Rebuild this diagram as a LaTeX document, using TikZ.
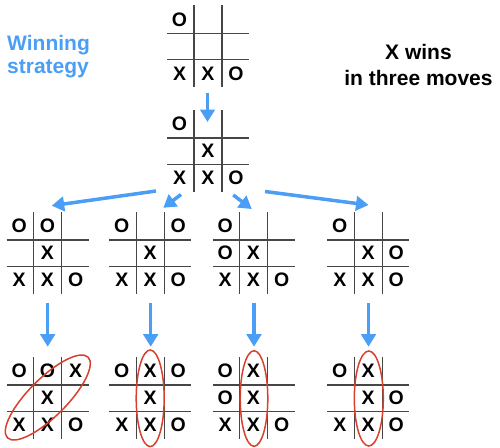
\documentclass[tikz,border=0pt]{standalone}
\usepackage{fontspec}
\setmainfont{Liberation Sans}
\usetikzlibrary{arrows.meta}

\definecolor{stratblue}{RGB}{74,158,246}
\definecolor{winred}{RGB}{214,64,44}
\definecolor{gridgray}{RGB}{70,70,70}

\tikzset{
  gridline/.style={draw=gridgray, line width=1.1pt},
  glyph/.style={inner sep=0pt, font=\fontsize{19.5}{21}\selectfont\bfseries},
  movearrow/.style={draw=stratblue, line width=3.5pt, -{Triangle[length=12.5pt,width=14.5pt]}},
  winloop/.style={draw=winred, line width=1.5pt},
  caption/.style={inner sep=0pt, font=\fontsize{21}{24}\selectfont\bfseries},
}

% #1 board name, #2 left x, #3 top y, #4 list of row/col/symbol
\newcommand\tttboard[4]{%
  \begin{scope}[shift={(#2,#3)}]
    \draw[gridline] (27,0) -- (27,82);
    \draw[gridline] (55,0) -- (55,82);
    \draw[gridline] (0,28) -- (82,28);
    \draw[gridline] (0,54.5) -- (82,54.5);
    \foreach \r/\c/\s in {#4}
      \node[glyph] (#1-\r-\c) at ({12.5+28.25*(\c-1)},{14+27*(\r-1)}) {\s};
  \end{scope}}

\begin{document}
\begin{tikzpicture}[x=1pt,y=-1pt]
  \useasboundingbox (0,0) rectangle (500,447);

  % captions
  \node[caption, text=stratblue, anchor=base west] (stratA) at (7,50) {Winning};
  \node[caption, text=stratblue, anchor=base west] (stratB) at (7,73.5) {strategy};
  \node[caption, anchor=base] (winA) at (418.5,59.5) {X wins};
  \node[caption, anchor=base] (winB) at (418.5,85) {in three moves};

  % game positions
  \tttboard{start}{167}{5.3}{1/1/O, 3/1/X, 3/2/X, 3/3/O}
  \tttboard{mid}{167}{110}{1/1/O, 2/2/X, 3/1/X, 3/2/X, 3/3/O}

  \tttboard{a}{6.7}{212}{1/1/O, 1/2/O, 2/2/X, 3/1/X, 3/2/X, 3/3/O}
  \tttboard{b}{109.3}{212}{1/1/O, 1/3/O, 2/2/X, 3/1/X, 3/2/X, 3/3/O}
  \tttboard{c}{212.7}{212}{1/1/O, 2/1/O, 2/2/X, 3/1/X, 3/2/X, 3/3/O}
  \tttboard{d}{327.3}{212}{1/1/O, 2/2/X, 2/3/O, 3/1/X, 3/2/X, 3/3/O}

  \tttboard{aw}{6.7}{357}{1/1/O, 1/2/O, 1/3/X, 2/2/X, 3/1/X, 3/2/X, 3/3/O}
  \tttboard{bw}{109.3}{357}{1/1/O, 1/2/X, 1/3/O, 2/2/X, 3/1/X, 3/2/X, 3/3/O}
  \tttboard{cw}{212.7}{357}{1/1/O, 1/2/X, 2/1/O, 2/2/X, 3/1/X, 3/2/X, 3/3/O}
  \tttboard{dw}{327.3}{357}{1/1/O, 1/2/X, 2/2/X, 2/3/O, 3/1/X, 3/2/X, 3/3/O}

  % arrow end points
  \coordinate (start-out) at (207.5,93);
  \coordinate (mid-in)    at (207.5,122);
  \coordinate (mid-outa)  at (156,191);
  \coordinate (a-in)      at (51.7,205.7);
  \coordinate (mid-outb)  at (181,194.5);
  \coordinate (b-in)      at (163.3,207.8);
  \coordinate (mid-outc)  at (233.3,195);
  \coordinate (c-in)      at (251.7,209);
  \coordinate (mid-outd)  at (265,191.5);
  \coordinate (d-in)      at (368.5,205);
  \coordinate (a-out)  at (47.7,302.7);  \coordinate (aw-in) at (47.7,346.7);
  \coordinate (b-out)  at (150.7,302.7); \coordinate (bw-in) at (150.7,346.7);
  \coordinate (c-out)  at (254,302.7);   \coordinate (cw-in) at (254,346.7);
  \coordinate (d-out)  at (368.5,302.7); \coordinate (dw-in) at (368.5,346.7);

  \draw[movearrow] (start-out) -- (mid-in);
  \draw[movearrow] (mid-outa) -- (a-in);
  \draw[movearrow] (mid-outb) -- (b-in);
  \draw[movearrow] (mid-outc) -- (c-in);
  \draw[movearrow] (mid-outd) -- (d-in);
  \draw[movearrow] (a-out) -- (aw-in);
  \draw[movearrow] (b-out) -- (bw-in);
  \draw[movearrow] (c-out) -- (cw-in);
  \draw[movearrow] (d-out) -- (dw-in);

  % winning lines
  \draw[winloop, rotate around={45:(47.8,397.5)}] (47.8,397.5) ellipse [x radius=57pt, y radius=19pt];
  \draw[winloop] (150.2,398.3) ellipse [x radius=14pt, y radius=48.3pt];
  \draw[winloop] (254,398.5) ellipse [x radius=13.8pt, y radius=47.8pt];
  \draw[winloop] (368.8,398.5) ellipse [x radius=14.5pt, y radius=47.5pt];
\end{tikzpicture}
\end{document}
